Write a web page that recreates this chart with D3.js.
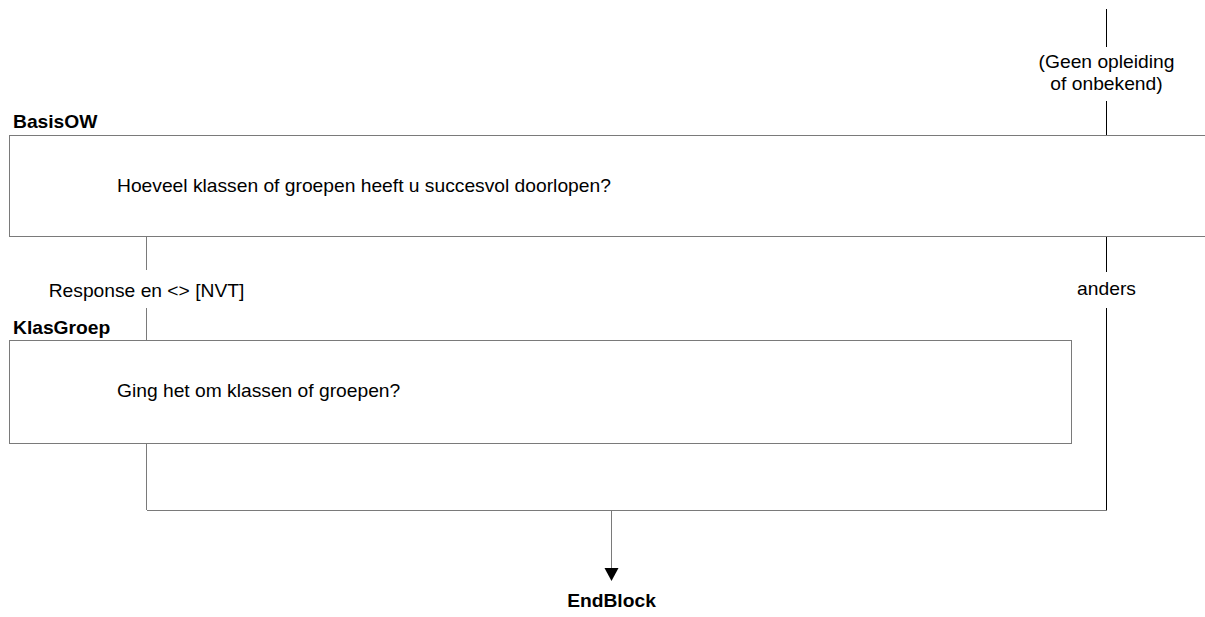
<!DOCTYPE html>
<html><head><meta charset="utf-8">
<script src="https://cdn.jsdelivr.net/npm/d3@7"></script>
<style>body{margin:0;background:#fff}svg{display:block}text{font-family:"Liberation Sans",Arial,sans-serif;fill:#000}</style>
</head><body>
<script>
const questionNames = ["BasisOW", "KlasGroep"];
const questionTexts = ["Hoeveel klassen of groepen heeft u succesvol doorlopen?", "Ging het om klassen of groepen?"];
const conditionLabels = ["Response en <> [NVT]", "anders"];
const entryLabel = ["(Geen opleiding", "of onbekend)"];
const endLabel = "EndBlock";

const W = 1205, H = 617;
const svg = d3.select("body").append("svg").attr("width", W).attr("height", H);
const fs = 17.5, sx = 1.1;
const grey = "#7a7a7a";

function label(x, y, txt, bold, anchor) {
  return svg.append("text").attr("font-size", fs).attr("font-weight", bold ? "bold" : "normal")
    .attr("text-anchor", anchor || "start")
    .attr("transform", `translate(${x},${y}) scale(${sx},1)`).text(txt);
}
function line(x1, y1, x2, y2, c) {
  svg.append("line").attr("x1", x1).attr("y1", y1).attr("x2", x2).attr("y2", y2)
    .attr("stroke", c || "#000").attr("stroke-width", 1).attr("shape-rendering", "crispEdges");
}

const xL = 146.5, xR = 1106.5, xEnd = 611.5;
const boxes = [
  {x: 9.5, y: 135.5, w: 1210, h: 101, ty: 192, ly: 128},
  {x: 9.5, y: 340.5, w: 1062, h: 103, ty: 397, ly: 334}
];

// entry line with label
line(xR, 9, xR, 47);
entryLabel.forEach((s, i) => label(xR, 68 + i * 22, s, false, "middle"));
line(xR, 101, xR, 135);

boxes.forEach((b, i) => {
  svg.append("rect").attr("x", b.x).attr("y", b.y).attr("width", b.w).attr("height", b.h)
    .attr("fill", "none").attr("stroke", grey).attr("shape-rendering", "crispEdges");
  label(13, b.ly, questionNames[i], true);
  label(117, b.ty, questionTexts[i], false);
});

// left branch
line(xL, 237, xL, 270, grey);
label(xL, 297, conditionLabels[0], false, "middle");
line(xL, 308, xL, 340, grey);
line(xL, 444, xL, 510, grey);

// right branch
line(xR, 237, xR, 272);
label(xR, 295, conditionLabels[1], false, "middle");
line(xR, 308, xR, 510);

// join
line(xL, 510.5, xR, 510.5, grey);
line(xEnd, 511, xEnd, 570, grey);
svg.append("path").attr("d", `M${xEnd - 7},568 L${xEnd + 7},568 L${xEnd},581 Z`).attr("fill", "#000");
label(xEnd, 607, endLabel, true, "middle");
</script>
</body></html>
